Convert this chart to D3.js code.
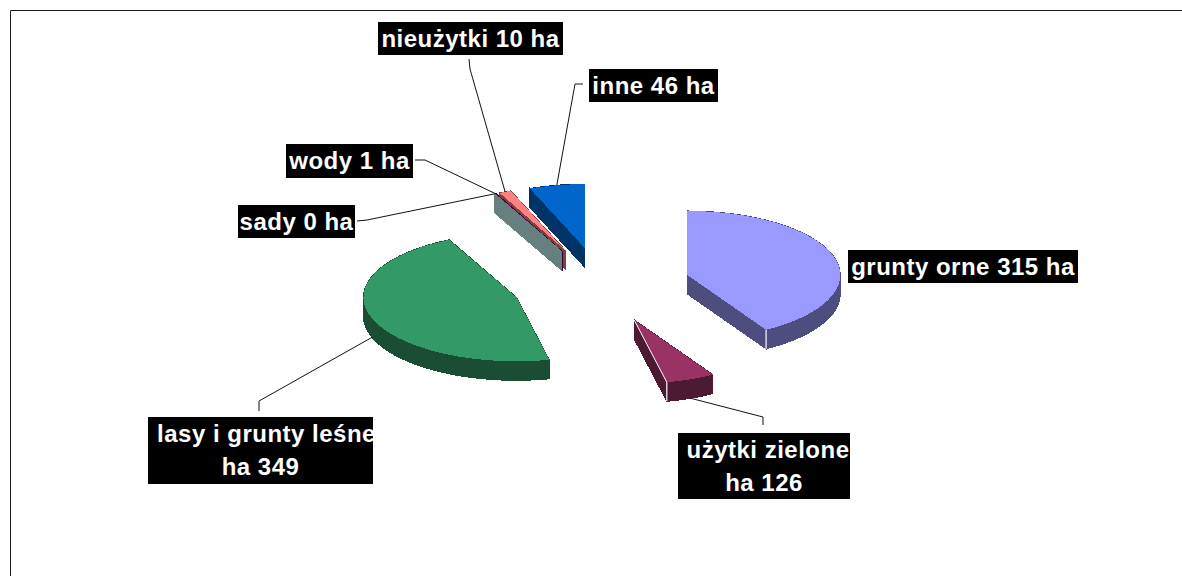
<!DOCTYPE html>
<html lang="pl">
<head>
<meta charset="utf-8">
<title>Struktura użytkowania gruntów</title>
<script src="https://cdn.jsdelivr.net/npm/d3@7/dist/d3.min.js"></script>
<style>
  html, body { margin: 0; padding: 0; background: #fff; overflow: hidden; }
  svg { display: block; }
  .label { font-family: "Liberation Sans", Arial, sans-serif; font-weight: bold; font-size: 24px; fill: #fff; }
</style>
</head>
<body>
<div id="chart"></div>
<script>
// Data, in chart order (clockwise from 12 o'clock)
const categories = ["grunty orne", "użytki zielone", "lasy i grunty leśne", "sady", "wody", "nieużytki", "inne"];
const hectares = [315, 126, 349, 0, 1, 10, 46];
const labelLines = [
  ["grunty orne 315 ha"],
  ["użytki zielone", "ha 126"],
  ["lasy i grunty leśne", "ha 349"],
  ["sady 0 ha"],
  ["wody 1 ha"],
  ["nieużytki 10 ha"],
  ["inne 46 ha"]
];

// Styles and layout
const topColors = ["#9999ff", "#993366", "#339966", "#ccffff", "#660066", "#ff8080", "#0066cc"];
const sideColors = ["#4d4d80", "#4d1a33", "#1a4d33", "#668080", "#330033", "#804040", "#003366"];
// x, y, w, h of the black label boxes
const labelBoxes = [
  [848, 250, 230, 33],
  [678, 433, 172, 66],
  [148, 417, 225, 67],
  [238, 205, 117, 33],
  [286, 144, 127, 34],
  [378, 22, 185, 33],
  [589, 69, 129, 33]
];
// first line of the two long labels runs past the right side of its box
const firstLineShift = [0, 4, 6, 0, 0, 0, 0];
// leader line: start at the label, then the knee (null = no leader)
const leaderStarts = [null, [763, 425], [259, 411], [357, 221], [415, 160], [469, 59], [583, 84]];
const leaderKnees = [null, [763, 417], [259, 401], [367, 220], [425, 160], [470, 69], [575, 84]];

const W = 1182, H = 576;
const centerX = 601, centerY = 285;
const explode = 0.585;
const depth = 19;

const svg = d3.select("#chart").append("svg").attr("width", W).attr("height", H);

// frame, open to the right and bottom of the window
svg.append("path")
  .attr("d", d3.line()([[10.5, H], [10.5, 10.5], [W, 10.5]]))
  .attr("fill", "none").attr("stroke", "#1a1a1a").attr("stroke-width", 1);

// the tilted pie: perspective bends the sweep of the near side
const warp = d3.scaleLinear()
  .domain([0, 133.9, 187.4, 335.8, 360])
  .range([0, 149, 167.6, 334, 360]);
const rimX = d3.scaleLinear().domain([-1, 1]).range([-153, 153]);
const rimY = d3.scaleLinear().domain([-1, 1]).range([-64, 64]);
const rad = d => d * Math.PI / 180;
const rim = phi => [rimX(Math.sin(rad(phi))), rimY(-Math.cos(rad(phi)))];

const slices = d3.pie().sort(null).value(d => d)(hectares).map((p, i) => {
  const phi0 = warp(p.startAngle * 180 / Math.PI);
  const phi1 = warp(p.endAngle * 180 / Math.PI);
  const mid = (phi0 + phi1) / 2;
  const [ex, ey] = rim(mid);
  return { i, phi0, phi1, mid, cx: centerX + ex * explode, cy: centerY + ey * explode };
});

const line = d3.line();
function outline(s) {
  const steps = Math.max(1, Math.ceil((s.phi1 - s.phi0) / 3));
  const pts = [[s.cx, s.cy]];
  d3.range(steps + 1).forEach(k => {
    const [x, y] = rim(s.phi0 + (s.phi1 - s.phi0) * k / steps);
    pts.push([s.cx + x, s.cy + y]);
  });
  return pts;
}

// back slices first
const g = svg.append("g").attr("shape-rendering", "crispEdges");
slices.slice().reverse().forEach(s => {
  const pts = outline(s);
  const closed = pts.concat([pts[0]]);
  // walls: every outline segment swept down; the top hides the back ones
  d3.pairs(closed).forEach(([a, b]) => {
    g.append("path")
      .attr("d", line([a, b, [b[0], b[1] + depth], [a[0], a[1] + depth]]) + "Z")
      .attr("fill", sideColors[s.i])
      .attr("stroke", sideColors[s.i]).attr("stroke-width", 1);
  });
  g.append("path")
    .attr("d", line(pts) + "Z")
    .attr("fill", topColors[s.i]);
});

// white edges on the two near slices
[0, 1].forEach(i => {
  const s = slices[i];
  const [x, y] = rim(s.phi1);
  const p = [s.cx + x, s.cy + y];
  svg.append("path").attr("d", line([p, [p[0], p[1] + depth]]))
    .attr("stroke", "#fff").attr("stroke-width", 1.2).attr("fill", "none");
  if (i === 1) {
    svg.append("path").attr("d", line([[s.cx, s.cy], p]))
      .attr("stroke", "#fff").attr("stroke-width", 1).attr("fill", "none");
  }
});

// leader lines end on the slice rim
slices.forEach(s => {
  if (!leaderStarts[s.i]) return;
  const [x, y] = rim(s.mid);
  // near-side slices meet the bottom of the wall
  const drop = s.mid > 90 && s.mid < 270 ? depth : 0;
  svg.append("path")
    .attr("d", line([leaderStarts[s.i], leaderKnees[s.i], [s.cx + x, s.cy + y + drop]]))
    .attr("fill", "none").attr("stroke", "#111").attr("stroke-width", 1);
});

// labels, clipped to their boxes as in the original
const defs = svg.append("defs");
labelBoxes.forEach((b, i) => {
  const [x, y, w, h] = b;
  defs.append("clipPath").attr("id", `clip${i}`)
    .append("rect").attr("x", x).attr("y", y).attr("width", w).attr("height", h);
  const lab = svg.append("g").attr("clip-path", `url(#clip${i})`);
  lab.append("rect").attr("x", x).attr("y", y).attr("width", w).attr("height", h).attr("fill", "#000");
  const lines = labelLines[i];
  lab.selectAll("text").data(lines).join("text")
    .attr("class", "label")
    .attr("x", (d, k) => x + w / 2 + (k === 0 ? firstLineShift[i] : 0))
    .attr("y", (d, k) => y + h / lines.length * (k + 0.5) + 8)
    .attr("text-anchor", "middle")
    .style("letter-spacing", "0.5px")
    .text(d => d);
});
</script>
</body>
</html>
